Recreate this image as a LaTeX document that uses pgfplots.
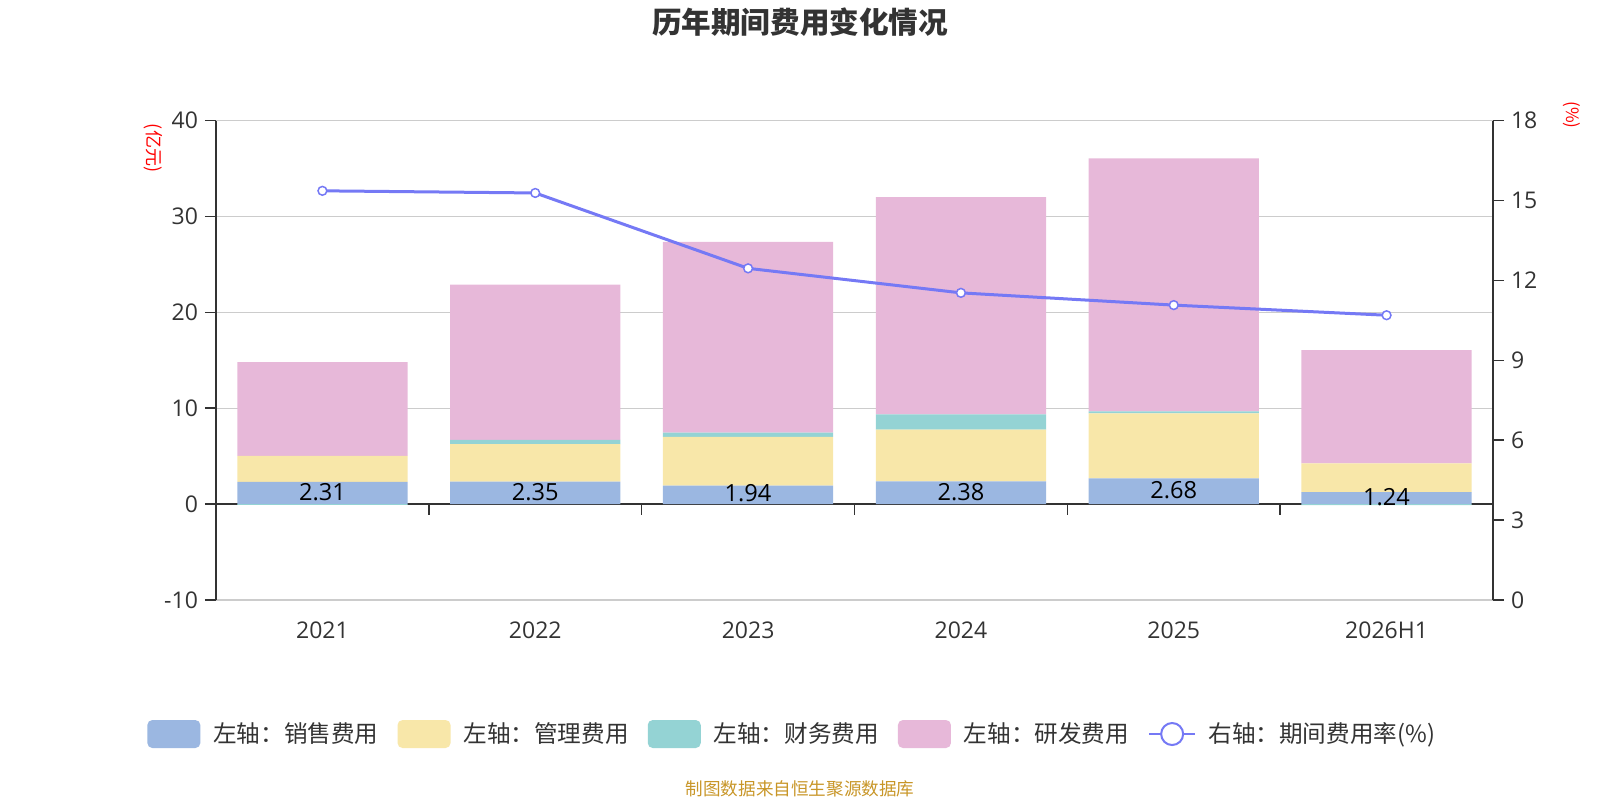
\documentclass[border=0pt]{standalone}
\usepackage{pgfplots}
\pgfplotsset{compat=1.18}
\usepackage{fontspec}
\setmainfont{Open Sans}
\newfontfamily\cjk{Noto Sans CJK SC}
\definecolor{cA}{RGB}{155,183,225}
\definecolor{cB}{RGB}{248,231,169}
\definecolor{cC}{RGB}{148,211,212}
\definecolor{cD}{RGB}{231,184,217}
\definecolor{linec}{RGB}{117,121,245}
\definecolor{txt}{RGB}{51,51,51}
\definecolor{axdark}{RGB}{51,51,51}
\definecolor{gridc}{RGB}{204,204,204}
\definecolor{foot}{RGB}{200,150,40}
\begin{document}
\begin{tikzpicture}
\path[use as bounding box] (-108pt,-100pt) rectangle (692pt,300pt);
\pgfplotsset{
  common/.style={at={(0,0)}, anchor=south west, scale only axis,
    width=638.5pt, height=239.75pt, xmin=-0.5, xmax=5.5,
    /pgf/number format/assume math mode=true,
    tick label style={font=\fontsize{11.5pt}{13pt}\selectfont, color=txt},
    major tick length=5.5pt, tick align=outside}
}
% left axis with stacked bars
\begin{axis}[common, ymin=-10, ymax=40,
  ybar stacked, bar width=0.8,
  xtick={0,1,2,3,4,5}, xticklabels={2021,2022,2023,2024,2025,2026H1},
  ytick={-10,0,10,20,30,40},
  axis y line*=left, axis x line*=bottom,
  x axis line style={draw=none}, xtick style={draw=none},
  ytick style={color=axdark, line width=0.75pt},
  y axis line style={color=axdark, line width=0.75pt},
  ymajorgrids, grid style={color=gridc, line width=0.6pt},
  xticklabel style={yshift=-2pt},
  legend columns=5,
  legend style={at={(0.452,-0.2795)}, anchor=center, draw=none,
    font=\cjk\fontsize{11.8pt}{13pt}\selectfont, text=txt,
    /tikz/every even column/.append style={column sep=7.5pt}},
  legend cell align=left,
]
\addplot[fill=cA, draw=none, legend image code/.code={\fill[cA, rounded corners=2.5pt] (0pt,-7pt) rectangle (26.5pt,7pt); \path (31pt,0pt);}] coordinates {(0,2.31) (1,2.35) (2,1.94) (3,2.38) (4,2.68) (5,1.24)};
\addlegendentry{左轴：销售费用}
\addplot[fill=cB, draw=none, legend image code/.code={\fill[cB, rounded corners=2.5pt] (0pt,-7pt) rectangle (26.5pt,7pt); \path (31pt,0pt);}] coordinates {(0,2.73) (1,3.91) (2,5.08) (3,5.39) (4,6.79) (5,3.02)};
\addlegendentry{左轴：管理费用}
\addplot[fill=cC, draw=none, legend image code/.code={\fill[cC, rounded corners=2.5pt] (0pt,-7pt) rectangle (26.5pt,7pt); \path (31pt,0pt);}] coordinates {(0,0) (1,0.44) (2,0.43) (3,1.59) (4,0.21) (5,0)};
\addlegendentry{左轴：财务费用}
\addplot[fill=cD, draw=none, legend image code/.code={\fill[cD, rounded corners=2.5pt] (0pt,-7pt) rectangle (26.5pt,7pt); \path (31pt,0pt);}] coordinates {(0,9.77) (1,16.2) (2,19.9) (3,22.66) (4,26.38) (5,11.8)};
\addlegendentry{左轴：研发费用}
\addlegendimage{legend image code/.code={\draw[linec, line width=1pt] (0pt,0pt) -- (23pt,0pt); \draw[linec, line width=1pt, fill=white] (11.5pt,0pt) circle (5.5pt); \path (27.5pt,0pt);}}
\addlegendentry{右轴：期间费用率(\%)}
\draw[axdark, line width=0.75pt] (axis cs:-0.5,0) -- (axis cs:5.5,0);
\pgfplotsinvokeforeach{0.5,1.5,2.5,3.5,4.5}{\draw[axdark, line width=0.75pt] (axis cs:#1,0) -- ++(0pt,-5.5pt);}
\end{axis}
% labels and negative finance
\begin{axis}[common, ymin=-10, ymax=40, hide axis]
\addplot[ybar, bar width=0.8, fill=cC, draw=none] coordinates {(0,-0.08) (5,-0.1)};
\addplot[draw=none, mark=none, nodes near coords, point meta=explicit symbolic,
  nodes near coords style={anchor=center, font=\fontsize{11.8pt}{13pt}\selectfont, text=black}]
  coordinates {(0,1.3)[2.31] (1,1.3)[2.35] (2,1.1)[1.94] (3,1.3)[2.38] (4,1.45)[2.68] (5,0.7)[1.24]};
\end{axis}
% right axis with line
\begin{axis}[common, ymin=0, ymax=18, ytick={0,3,...,18},
  axis y line*=right, axis x line=none,
  ytick style={color=axdark, line width=0.75pt},
  y axis line style={color=axdark, line width=0.75pt}]
\addplot[color=linec, line width=1.5pt, mark=*, mark size=2.2pt,
  mark options={fill=white, line width=0.75pt}]
  coordinates {(0,15.36) (1,15.28) (2,12.45) (3,11.53) (4,11.07) (5,10.69)};
\end{axis}
\node[font=\cjk\bfseries\fontsize{14.8pt}{16pt}\selectfont, text=txt] at (292pt,288.75pt) {历年期间费用变化情况};
\node[font=\cjk\fontsize{9pt}{10pt}\selectfont, text=red, rotate=-90] at (-31.5pt,226pt) {(亿元)};
\node[font=\cjk\fontsize{8.5pt}{9pt}\selectfont, text=red, rotate=-90] at (678pt,242.5pt) {(\%)};
\node[font=\cjk\fontsize{8.8pt}{10pt}\selectfont, text=foot] at (292pt,-94.5pt) {制图数据来自恒生聚源数据库};
\end{tikzpicture}
\end{document}
